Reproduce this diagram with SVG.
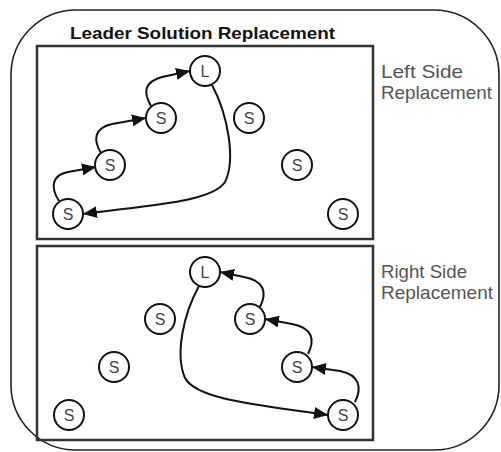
<svg xmlns="http://www.w3.org/2000/svg" width="501" height="452" viewBox="0 0 501 452">
<style>
.frame{fill:none;stroke:#222;stroke-width:1.6}
.panel{fill:none;stroke:#333;stroke-width:2.5}
.node circle{fill:#fff;stroke:#111;stroke-width:2}
.node text{font-family:"Liberation Sans",Arial,sans-serif;font-size:16px;fill:#444;text-anchor:middle}
.edge{fill:none;stroke:#111;stroke-width:2;marker-end:url(#ah)}
.title{font-family:"Liberation Sans",Arial,sans-serif;font-size:16.5px;font-weight:bold;fill:#111}
.side{font-family:"Liberation Sans",Arial,sans-serif;font-size:18.5px;fill:#555}
</style>
<defs>
<marker id="ah" markerUnits="userSpaceOnUse" markerWidth="15" markerHeight="12" refX="14" refY="6" orient="auto">
<path d="M0,0 L14,6 L0,12 Z" fill="#111"/>
</marker>
</defs>
<rect class="frame" x="11" y="10" width="488" height="440" rx="65" ry="65"/>
<rect class="panel" x="37" y="46" width="336" height="193"/>
<rect class="panel" x="37" y="246" width="336" height="194"/>
<text class="title" x="70" y="39" textLength="265" lengthAdjust="spacingAndGlyphs">Leader Solution Replacement</text>
<text class="side" x="381" y="78" textLength="82" lengthAdjust="spacingAndGlyphs">Left Side</text>
<text class="side" x="381" y="99" textLength="111" lengthAdjust="spacingAndGlyphs">Replacement</text>
<text class="side" x="381" y="278" textLength="86" lengthAdjust="spacingAndGlyphs">Right Side</text>
<text class="side" x="381" y="299" textLength="112" lengthAdjust="spacingAndGlyphs">Replacement</text>
<g id="connectors">
<path class="edge" d="M59 201 C50 187, 52 175, 68 172 L96 167"/>
<path class="edge" d="M101 153 C93 140, 94 128, 112 124 L146 118"/>
<path class="edge" d="M151 106 C143 92, 144 82, 162 77 L190 71"/>
<path class="edge" d="M212 85 C228 115, 236 160, 225 182 C212 202, 150 205, 83 214"/>
<path class="edge" d="M355 402 C362 388, 360 375, 340 371 L312 367"/>
<path class="edge" d="M308 354 C315 340, 313 328, 292 324 L265 319"/>
<path class="edge" d="M260 307 C267 293, 265 281, 244 277 L220 272"/>
<path class="edge" d="M199 286 C183 315, 175 355, 185 378 C197 400, 260 405, 328 415"/>
</g>
<g id="t_L" class="node"><circle cx="205" cy="71" r="15"/><text x="205" y="77">L</text></g>
<g id="t_S1" class="node"><circle cx="161" cy="118" r="15"/><text x="161" y="124">S</text></g>
<g id="t_S2" class="node"><circle cx="110" cy="165" r="15"/><text x="110" y="171">S</text></g>
<g id="t_S3" class="node"><circle cx="68" cy="214" r="15"/><text x="68" y="220">S</text></g>
<g id="t_S4" class="node"><circle cx="249" cy="118" r="15"/><text x="249" y="124">S</text></g>
<g id="t_S5" class="node"><circle cx="297" cy="165" r="15"/><text x="297" y="171">S</text></g>
<g id="t_S6" class="node"><circle cx="343" cy="214" r="15"/><text x="343" y="220">S</text></g>
<g id="b_L" class="node"><circle cx="205" cy="272" r="15"/><text x="205" y="278">L</text></g>
<g id="b_S1" class="node"><circle cx="160" cy="319" r="15"/><text x="160" y="325">S</text></g>
<g id="b_S2" class="node"><circle cx="114" cy="367" r="15"/><text x="114" y="373">S</text></g>
<g id="b_S3" class="node"><circle cx="69" cy="415" r="15"/><text x="69" y="421">S</text></g>
<g id="b_S4" class="node"><circle cx="250" cy="319" r="15"/><text x="250" y="325">S</text></g>
<g id="b_S5" class="node"><circle cx="297" cy="367" r="15"/><text x="297" y="373">S</text></g>
<g id="b_S6" class="node"><circle cx="343" cy="415" r="15"/><text x="343" y="421">S</text></g>
</svg>
